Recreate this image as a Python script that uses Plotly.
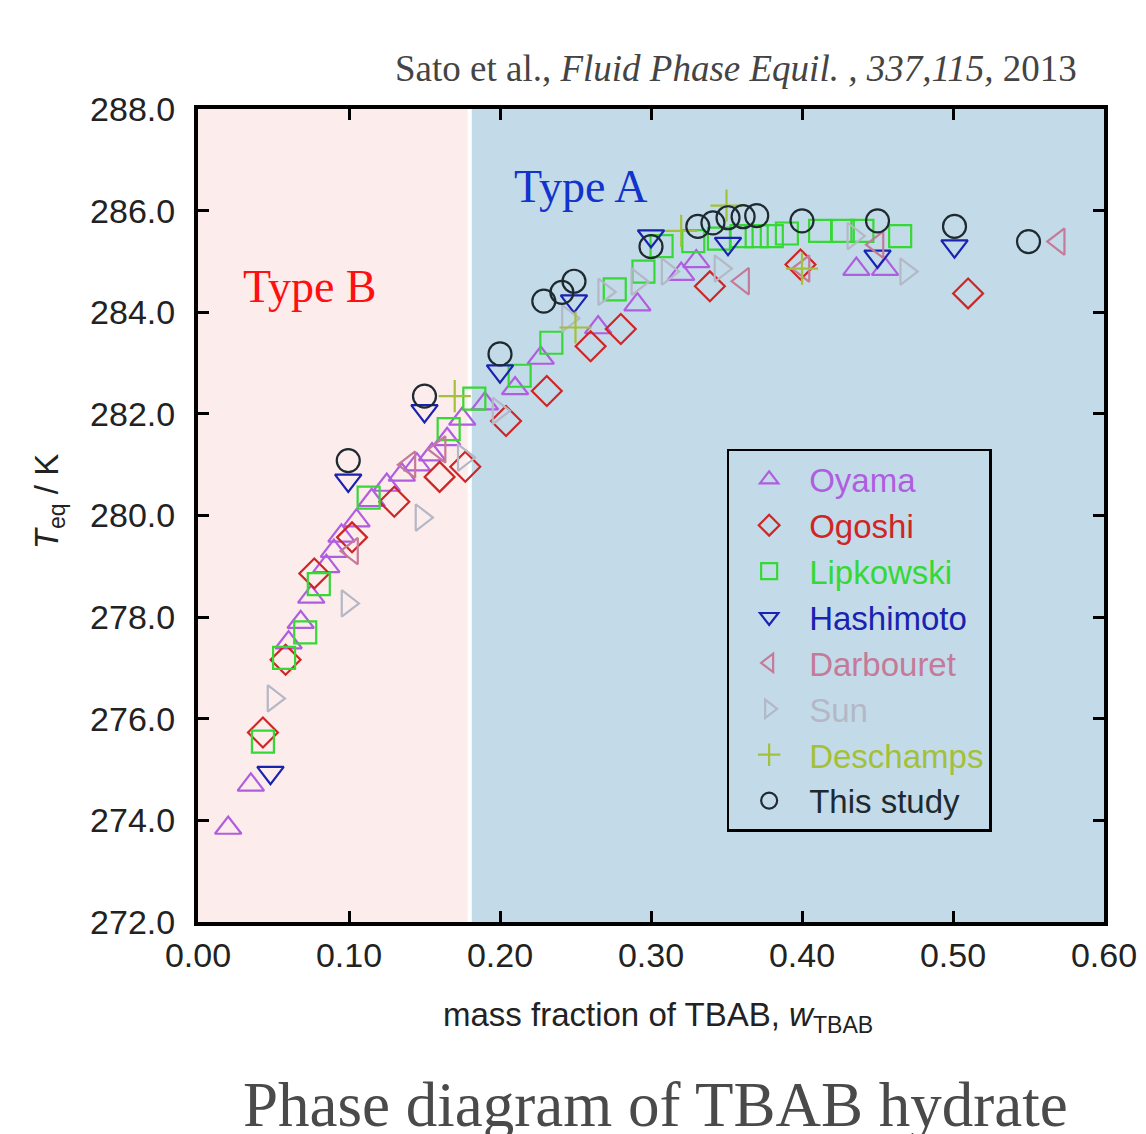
import plotly.graph_objects as go

# ---------------- data ----------------
oyama_w = [0.020, 0.035, 0.060, 0.068, 0.075, 0.085, 0.090, 0.095, 0.105, 0.115, 0.125, 0.135,
           0.145, 0.155, 0.165, 0.175, 0.190, 0.210, 0.227, 0.265, 0.291, 0.320, 0.330, 0.436, 0.455]
oyama_T = [273.85, 274.70, 277.50, 277.90, 278.40, 279.00, 279.30, 279.60, 279.90, 280.30, 280.60, 280.80,
           281.00, 281.20, 281.50, 281.90, 282.20, 282.50, 283.10, 283.70, 284.15, 284.75, 285.00, 284.85, 284.85]

ogoshi_w = [0.043, 0.058, 0.077, 0.102, 0.130, 0.160, 0.177, 0.204, 0.231, 0.260, 0.280, 0.339, 0.399, 0.510]
ogoshi_T = [275.73, 277.16, 278.86, 279.57, 280.27, 280.76, 280.96, 281.86, 282.45, 283.33, 283.67, 284.51, 284.94, 284.37]

lipk_w = [0.043, 0.057, 0.071, 0.080, 0.113, 0.166, 0.183, 0.213, 0.234, 0.276, 0.295, 0.307, 0.328,
          0.345, 0.360, 0.370, 0.380, 0.390, 0.412, 0.427, 0.440, 0.465]
lipk_T = [275.55, 277.20, 277.70, 278.65, 280.35, 281.70, 282.30, 282.75, 283.40, 284.45, 284.80, 285.30, 285.40,
          285.45, 285.50, 285.50, 285.50, 285.55, 285.60, 285.60, 285.60, 285.50]

hashi_w = [0.048, 0.0995, 0.150, 0.200, 0.249, 0.300, 0.351, 0.450, 0.501]
hashi_T = [274.94, 280.69, 282.06, 282.84, 284.22, 285.50, 285.35, 285.10, 285.30]

darb_w = [0.102, 0.140, 0.160, 0.361, 0.401, 0.450, 0.570]
darb_T = [279.30, 281.00, 281.30, 284.61, 284.86, 285.33, 285.39]

sun_w = [0.050, 0.099, 0.148, 0.176, 0.199, 0.245, 0.269, 0.291, 0.311, 0.346, 0.434, 0.469]
sun_T = [276.40, 278.27, 279.96, 281.14, 282.06, 283.88, 284.40, 284.60, 284.80, 284.86, 285.50, 284.80]

desch_w = [0.170, 0.250, 0.320, 0.350, 0.400]
desch_T = [282.35, 283.70, 285.60, 286.10, 284.86]

study_w = [0.0995, 0.150, 0.200, 0.229, 0.241, 0.249, 0.300, 0.331, 0.341, 0.351, 0.361, 0.370,
           0.400, 0.450, 0.501, 0.550]
study_T = [281.08, 282.35, 283.18, 284.22, 284.39, 284.61, 285.29, 285.69, 285.76, 285.86, 285.88, 285.90,
           285.80, 285.80, 285.69, 285.39]

x_ticks = [0.0, 0.1, 0.2, 0.3, 0.4, 0.5, 0.6]
x_tick_labels = ["0.00", "0.10", "0.20", "0.30", "0.40", "0.50", "0.60"]
y_ticks = [272, 274, 276, 278, 280, 282, 284, 286, 288]
y_tick_labels = ["272.0", "274.0", "276.0", "278.0", "280.0", "282.0", "284.0", "286.0", "288.0"]

type_b_range = [0.0, 0.1786]
type_a_range = [0.1813, 0.60]

series = [
    ("Oyama", oyama_w, oyama_T, "triangle-up-open", "#b05ee0", 23),
    ("Ogoshi", ogoshi_w, ogoshi_T, "diamond-open", "#d02525", 23),
    ("Lipkowski", lipk_w, lipk_T, "square-open", "#35d835", 22),
    ("Hashimoto", hashi_w, hashi_T, "triangle-down-open", "#1a22b0", 23),
    ("Darbouret", darb_w, darb_T, "triangle-left-open", "#c47a98", 23),
    ("Sun", sun_w, sun_T, "triangle-right-open", "#b4b8c6", 23),
    ("Deschamps", desch_w, desch_T, "cross-thin-open", "#a4c038", 23),
    ("This study", study_w, study_T, "circle-open", "#1e2a30", 23),
]

SANS = "Liberation Sans, Arial, sans-serif"
SERIF = "Liberation Serif, Times New Roman, serif"

fig = go.Figure()
for name, xs, ys, sym, col, sz in series:
    fig.add_trace(go.Scatter(
        x=xs, y=ys, mode="markers",
        name=f'<span style="color:{col}">{name}</span>',
        marker=dict(symbol=sym, size=sz, color=col, line=dict(color=col, width=2.2)),
    ))

# background regions
fig.add_shape(type="rect", xref="x", yref="paper", x0=type_b_range[0], x1=type_b_range[1], y0=0, y1=1,
              fillcolor="#fdecec", line=dict(width=0), layer="below")
fig.add_shape(type="rect", xref="x", yref="paper", x0=type_a_range[0], x1=type_a_range[1], y0=0, y1=1,
              fillcolor="#c3dbe9", line=dict(width=0), layer="below")

axis_common = dict(
    showline=True, linecolor="black", linewidth=4, mirror="ticks",
    ticks="inside", ticklen=11, tickwidth=3, tickcolor="black",
    showgrid=False, zeroline=False,
    tickfont=dict(family=SANS, size=34, color="#222"),
)

fig.update_xaxes(range=[0, 0.6], tickvals=x_ticks, ticktext=x_tick_labels, ticklabelstandoff=0, **axis_common)
fig.update_yaxes(range=[272, 288], tickvals=y_ticks, ticktext=y_tick_labels, ticklabelstandoff=12, **axis_common)

annotations = [
    dict(text="Type A", x=0.2538, y=286.47, xref="x", yref="y", showarrow=False,
         font=dict(family=SERIF, size=46, color="#1233cc")),
    dict(text="Type B", x=0.0745, y=284.51, xref="x", yref="y", showarrow=False,
         font=dict(family=SERIF, size=46, color="#ff1010")),
    dict(text="Sato et al., <i>Fluid Phase Equil. , 337,115,</i> 2013", x=0.972, y=1.05,
         xref="paper", yref="paper", xanchor="right", yanchor="middle", showarrow=False,
         font=dict(family=SERIF, size=37, color="#444")),
    dict(text="mass fraction of TBAB, <i>w</i><sub>TBAB</sub>", x=0.5077, y=-0.117,
         xref="paper", yref="paper", xanchor="center", yanchor="middle", showarrow=False,
         font=dict(family=SANS, size=33, color="#222")),
    dict(text="<i>T</i><sub>eq</sub> / K", x=-0.165, y=0.517, textangle=-90,
         xref="paper", yref="paper", xanchor="center", yanchor="middle", showarrow=False,
         font=dict(family=SANS, size=33, color="#222")),
    dict(text="Phase diagram of TBAB hydrate", x=0.5055, y=-0.225,
         xref="paper", yref="paper", xanchor="center", yanchor="middle", showarrow=False,
         font=dict(family=SERIF, size=63, color="#4a4a4a")),
]

fig.update_layout(
    width=1146, height=1134,
    margin=dict(l=190, r=50, t=101, b=220),
    paper_bgcolor="white", plot_bgcolor="white",
    showlegend=True,
    legend=dict(x=0.5835, y=0.582, xanchor="left", yanchor="top",
                bgcolor="rgba(0,0,0,0)", bordercolor="black", borderwidth=2.5,
                font=dict(family=SANS, size=33), itemsizing="trace", itemwidth=70,
                tracegroupgap=0),
    annotations=annotations,
)

fig.write_html("out.html")
